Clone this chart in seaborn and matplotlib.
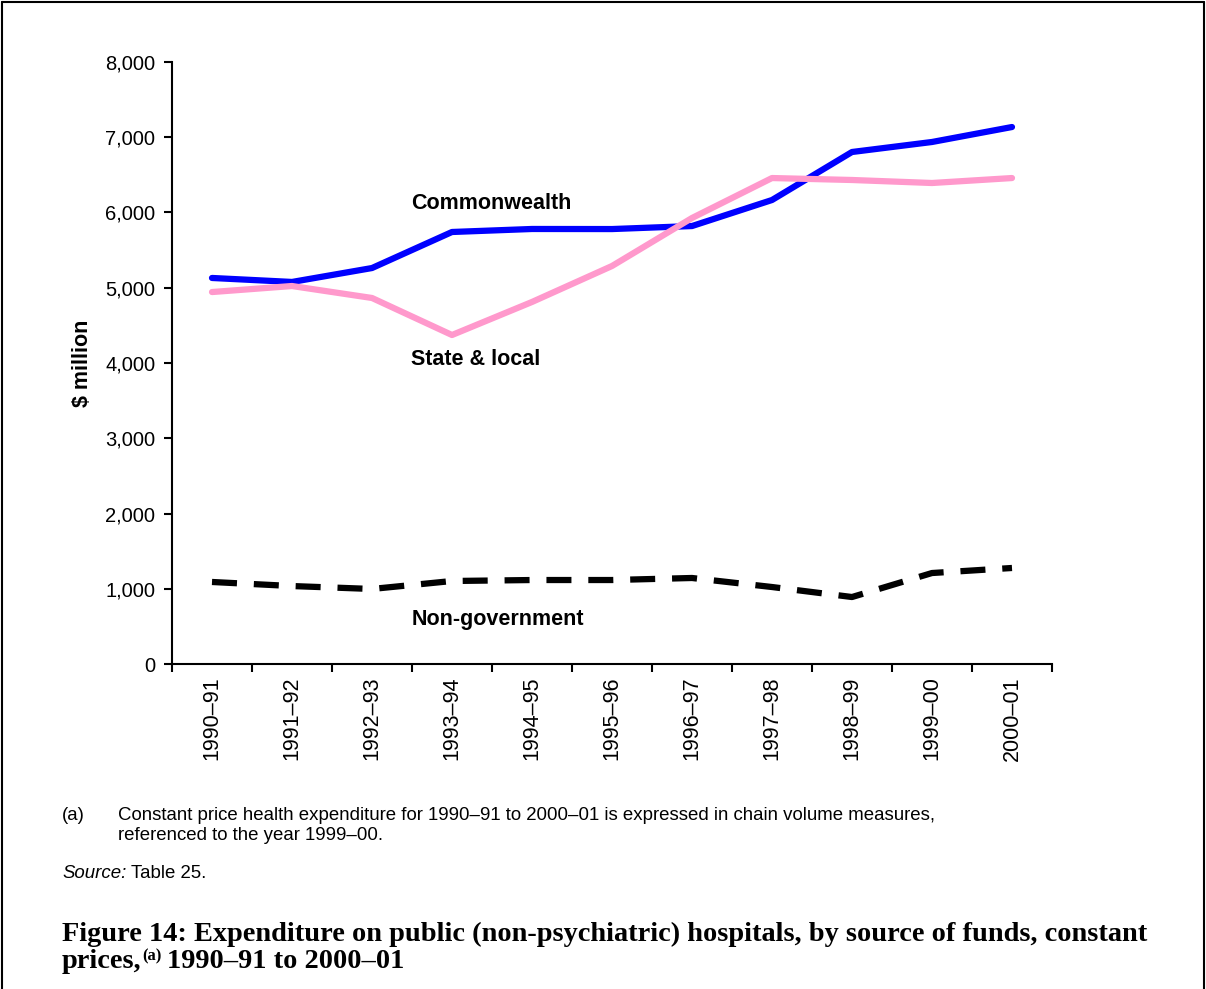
import matplotlib
matplotlib.use("Agg")
import matplotlib.pyplot as plt
from matplotlib.lines import Line2D
import seaborn as sns

years = ["1990–91", "1991–92", "1992–93", "1993–94", "1994–95", "1995–96",
         "1996–97", "1997–98", "1998–99", "1999–00", "2000–01"]
commonwealth = [5130, 5077, 5262, 5741, 5781, 5780, 5820, 6166, 6804, 6937, 7136]
state_local = [4943, 5023, 4864, 4372, 4811, 5289, 5927, 6458, 6432, 6392, 6458]
non_government = [1090, 1036, 997, 1103, 1116, 1116, 1143, 1023, 890, 1209, 1276]
yticks = [0, 1000, 2000, 3000, 4000, 5000, 6000, 7000, 8000]

sns.set_style("white")
plt.rcParams["font.family"] = ["Liberation Sans", "DejaVu Sans"]
plt.rcParams.update({"text.color": "black", "axes.labelcolor": "black",
                     "xtick.color": "black", "ytick.color": "black"})

W, H = 1206, 989
fig = plt.figure(figsize=(W / 100, H / 100), dpi=100)
ax = fig.add_axes([172 / W, 1 - 664 / H, 880 / W, 602 / H])

pos = list(range(len(years)))
sns.lineplot(x=pos, y=commonwealth, ax=ax, color="#0000FF", linewidth=4.5)
sns.lineplot(x=pos, y=state_local, ax=ax, color="#FF99CC", linewidth=4.5)
sns.lineplot(x=pos, y=non_government, ax=ax, color="black", linewidth=4.5)
ng = ax.lines[-1]
ng.set_dashes((4.0, 2.7))
ng.set_dash_capstyle("butt")

# series labels
lab_kw = dict(fontsize=15.5, fontweight="bold", ha="left", va="center")
ax.text(2.49, 6126, "Commonwealth", **lab_kw)
ax.text(2.49, 4040, "State & local", **lab_kw)
ax.text(2.49, 598, "Non-government", **lab_kw)

ax.set_xlim(-0.5, len(years) - 0.5)
ax.set_ylim(0, 8000)
ax.set_yticks(yticks)
ax.set_yticklabels([f"{v:,}" for v in yticks], fontsize=14.5)

# boundary ticks on major, labels on minor
ax.set_xticks([p - 0.5 for p in pos] + [len(years) - 0.5])
ax.set_xticklabels([])
ax.set_xticks(pos, minor=True)
ax.set_xticklabels(years, minor=True, rotation=90, fontsize=15.5)
ax.tick_params(axis="x", which="major", direction="out", length=6, width=1.5)
ax.tick_params(axis="x", which="minor", length=0, pad=9)
ax.tick_params(axis="y", direction="out", length=6, width=1.5, pad=6)
ax.tick_params(left=True, bottom=True)

for side in ["top", "right"]:
    ax.spines[side].set_visible(False)
for side in ["left", "bottom"]:
    ax.spines[side].set_linewidth(1.5)
    ax.spines[side].set_color("black")

ax.set_ylabel("$ million", fontsize=15.5, fontweight="bold")
ax.yaxis.set_label_coords(-0.09, 0.5)

renderer = fig.canvas.get_renderer()


def text_after(prev, gap_px, s, **kw):
    bb = prev.get_window_extent(renderer)
    x, y = prev.get_position()
    return fig.text((bb.x1 + gap_px) / W, y, s, **kw)


# footnotes
fn = 13.4
fig.text(62 / W, 1 - 815 / H, "(a)", fontsize=fn, va="center")
fig.text(118 / W, 1 - 815 / H,
         "Constant price health expenditure for 1990–91 to 2000–01 is expressed in chain volume measures,",
         fontsize=fn, va="center")
fig.text(118 / W, 1 - 836 / H, "referenced to the year 1999–00.", fontsize=fn, va="center")
src = fig.text(62 / W, 1 - 873 / H, "Source:", fontsize=fn, va="center", style="italic")
text_after(src, 5, "Table 25.", fontsize=fn, va="center")

# caption
cap_fam = ["Liberation Serif", "DejaVu Serif"]
cap_kw = dict(fontsize=20.4, fontweight="bold", va="center", family=cap_fam)
fig.text(62 / W, 1 - 934 / H,
         "Figure 14: Expenditure on public (non-psychiatric) hospitals, by source of funds, constant",
         **cap_kw)
p1 = fig.text(62 / W, 1 - 962 / H, "prices,", **cap_kw)
bb = p1.get_window_extent(renderer)
sup = fig.text((bb.x1 + 1) / W, 1 - 956 / H, "(a)", fontsize=12, fontweight="bold",
               va="center", family=cap_fam)
bb2 = sup.get_window_extent(renderer)
fig.text((bb2.x1 + 5) / W, 1 - 962 / H, "1990–91 to 2000–01", **cap_kw)

# page frame (left, top, right)
for xs, ys in [([2 / W, 2 / W], [0, 1 - 2 / H]),
               ([2 / W, 1 - 2 / W], [1 - 2 / H, 1 - 2 / H]),
               ([1 - 2 / W, 1 - 2 / W], [0, 1 - 2 / H])]:
    fig.add_artist(Line2D(xs, ys, color="black", linewidth=1.5))

fig.savefig("out.png", dpi=100)
